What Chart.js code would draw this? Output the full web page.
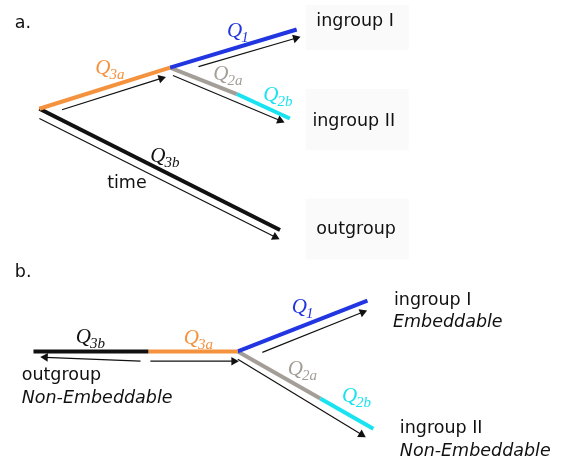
<!DOCTYPE html>
<html>
<head>
<meta charset="utf-8">
<script src="https://cdn.jsdelivr.net/npm/chart.js@4/dist/chart.umd.min.js"></script>
<style>
	html, body { margin: 0; padding: 0; background: #fff; }
	canvas { display: block; }
</style>
</head>
<body>
<canvas id="tree" width="561" height="467"></canvas>
<script>
// diagram grid: x 0..561, y 0..467 (y runs downward)
// panel a branches, [start, end]
const aQ3a = [[35, 106], [168, 64]];
const aQ1 = [[168, 64], [297, 25]];
const aQ2a = [[168, 64], [236, 91]];
const aQ2b = [[236, 91], [290, 116]];
const aQ3b = [[35, 106], [280, 230]];

// panel b branches
const bQ3b = [[29, 354], [146, 354]];
const bQ3a = [[146, 354], [237, 354]];
const bQ1 = [[237, 354], [369, 302]];
const bQ2a = [[237, 354], [321, 402]];
const bQ2b = [[321, 402], [375, 433]];

// time arrows, [tail, head]
const arrowsA = [
	[[58, 107], [159, 75]],
	[[197, 63], [296, 34]],
	[[171, 72], [280, 118]],
	[[35, 116], [275, 237]]
];
const arrowsB = [
	[[138, 364], [41, 360]],
	[[148, 364], [233, 364]],
	[[262, 355], [364, 314]],
	[[237, 362], [363, 439]]
];

// branch labels: name, subscript, x, baseline
const qLabels = [
	['Q', '3a', 92, 71, '#f5923e'],
	['Q', '1', 226, 33, '#2136e0'],
	['Q', '2a', 212, 77, '#a49e98'],
	['Q', '2b', 263, 98, '#19e3f0'],
	['Q', '3b', 148, 160, '#111111'],
	['Q', '3b', 72, 345, '#111111'],
	['Q', '3a', 182, 346, '#f5923e'],
	['Q', '1', 292, 315, '#2136e0'],
	['Q', '2a', 288, 378, '#a49e98'],
	['Q', '2b', 343, 406, '#19e3f0']
];

// plain text: text, x, baseline, italic
const textLabels = [
	['a.', 10, 23, false],
	['b.', 10, 278, false],
	['ingroup I', 317, 21, false],
	['ingroup II', 313, 124, false],
	['outgroup', 317, 234, false],
	['time', 104, 187, false],
	['outgroup', 17, 383, false],
	['Non-Embeddable', 17, 407, true],
	['ingroup I', 396, 307, false],
	['Embeddable', 395, 329, true],
	['ingroup II', 402, 437, false],
	['Non-Embeddable', 402, 461, true]
];

// faint boxes behind panel a tip labels: x0, y0, x1, y1
const labelBoxes = [
	[306, 0, 411, 46],
	[306, 86, 411, 148],
	[306, 198, 411, 260]
];

const ORANGE = '#f5923e';
const BLUE = '#2136e0';
const GRAY = '#a49e98';
const CYAN = '#19e3f0';
const BLACK = '#111111';

function toPts(seg) {
	return seg.map(p => ({ x: p[0], y: p[1] }));
}

function branch(seg, color) {
	return {
		data: toPts(seg),
		showLine: true,
		borderColor: color,
		borderWidth: 4,
		borderCapStyle: 'butt',
		pointRadius: 0,
		clip: false
	};
}

function arrow(seg) {
	return {
		data: toPts(seg),
		showLine: true,
		borderColor: BLACK,
		borderWidth: 1.2,
		pointRadius: [0, 5],
		pointStyle: 'triangle',
		pointBackgroundColor: BLACK,
		pointBorderWidth: 0,
		pointRotation: function(ctx) {
			const d = ctx.dataset.data;
			const sx = ctx.chart.scales.x;
			const sy = ctx.chart.scales.y;
			if (!sx || !sy) return 0;
			const dx = sx.getPixelForValue(d[1].x) - sx.getPixelForValue(d[0].x);
			const dy = sy.getPixelForValue(d[1].y) - sy.getPixelForValue(d[0].y);
			return Math.atan2(dy, dx) * 180 / Math.PI + 90;
		},
		clip: false
	};
}

const labelPlugin = {
	id: 'labels',
	beforeDatasetsDraw(chart) {
		const c = chart.ctx;
		const sx = chart.scales.x, sy = chart.scales.y;
		c.save();
		c.fillStyle = '#fafafa';
		labelBoxes.forEach(b => {
			const x0 = sx.getPixelForValue(b[0]), y0 = sy.getPixelForValue(b[1]);
			const x1 = sx.getPixelForValue(b[2]), y1 = sy.getPixelForValue(b[3]);
			c.fillRect(x0, y0, x1 - x0, y1 - y0);
		});
		c.restore();
	},
	afterDatasetsDraw(chart) {
		const c = chart.ctx;
		const sx = chart.scales.x, sy = chart.scales.y;
		c.save();
		c.textBaseline = 'alphabetic';
		c.textAlign = 'left';
		textLabels.forEach(t => {
			c.font = (t[3] ? 'italic ' : '') + '17.5px "DejaVu Sans"';
			c.fillStyle = '#111';
			c.fillText(t[0], sx.getPixelForValue(t[1]), sy.getPixelForValue(t[2]));
		});
		qLabels.forEach(q => {
			const x = sx.getPixelForValue(q[2]);
			const y = sy.getPixelForValue(q[3]);
			c.fillStyle = q[4];
			c.font = 'italic 21px "Liberation Serif"';
			c.fillText(q[0], x, y);
			const w = c.measureText(q[0]).width;
			c.font = 'italic 15px "Liberation Serif"';
			c.fillText(q[1], x + w - 1, y + 5);
		});
		c.restore();
	}
};

new Chart(document.getElementById('tree'), {
	type: 'scatter',
	data: {
		datasets: [
			branch(aQ3a, ORANGE),
			branch(aQ1, BLUE),
			branch(aQ2a, GRAY),
			branch(aQ2b, CYAN),
			branch(aQ3b, BLACK),
			branch(bQ3b, BLACK),
			branch(bQ3a, ORANGE),
			branch(bQ1, BLUE),
			branch(bQ2a, GRAY),
			branch(bQ2b, CYAN),
			...arrowsA.map(arrow),
			...arrowsB.map(arrow)
		]
	},
	options: {
		responsive: false,
		animation: false,
		events: [],
		layout: { padding: 0 },
		plugins: {
			legend: { display: false },
			tooltip: { enabled: false }
		},
		scales: {
			x: { type: 'linear', min: 0, max: 561, display: false },
			y: { type: 'linear', min: 0, max: 467, reverse: true, display: false }
		}
	},
	plugins: [labelPlugin]
});
</script>
</body>
</html>
